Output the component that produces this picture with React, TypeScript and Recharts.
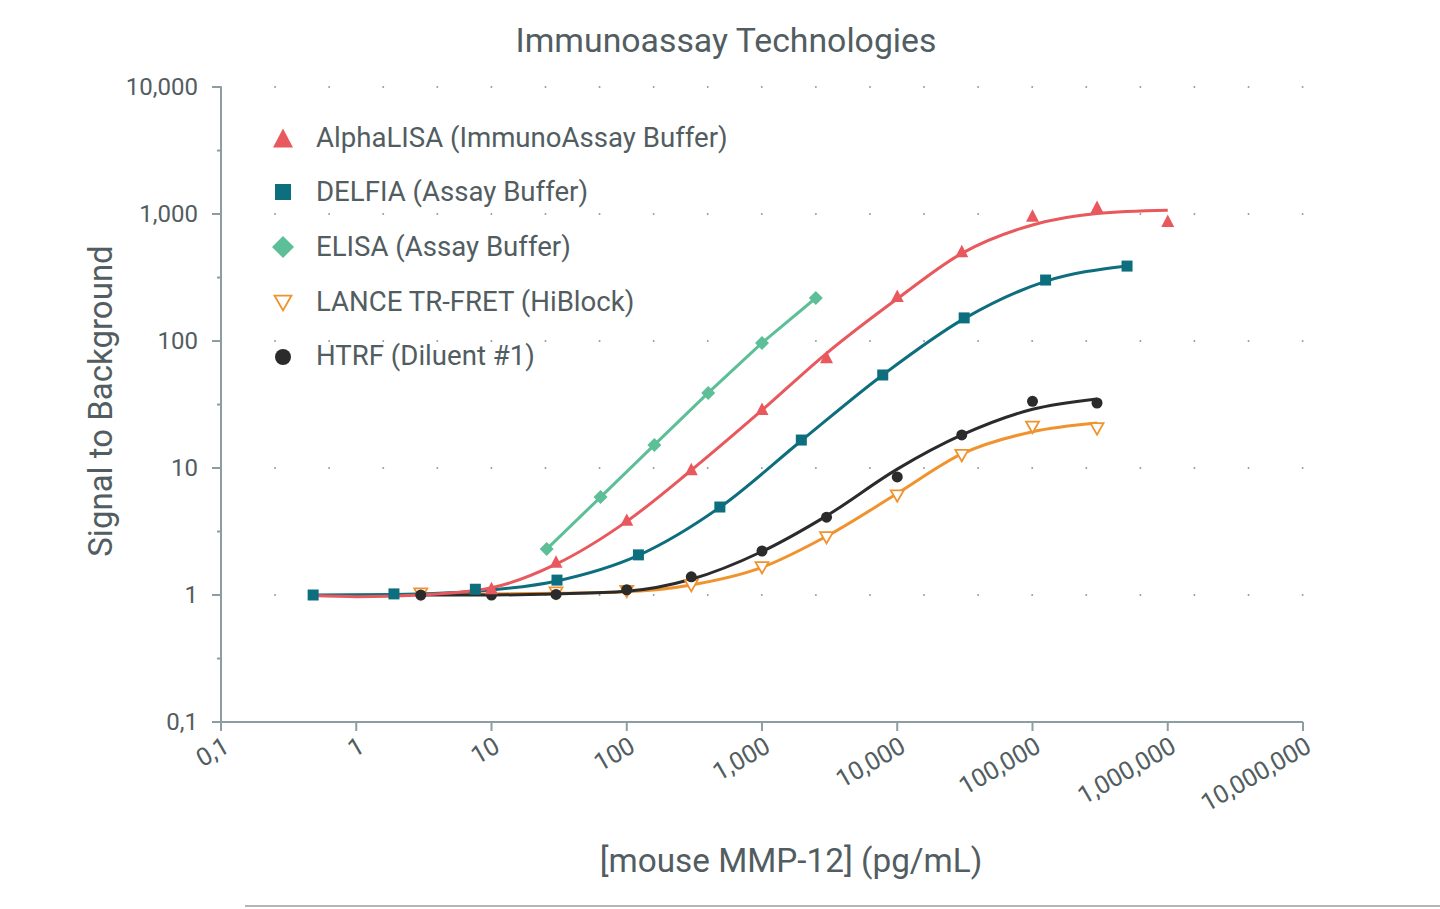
import React from 'react';
import { ComposedChart, Line, Scatter, XAxis, YAxis, ReferenceLine } from 'recharts';

// ---- axis ticks ----
const xTicks = [0.1, 1, 10, 100, 1000, 10000, 100000, 1000000, 10000000];
const xTickLabels = ['0,1', '1', '10', '100', '1,000', '10,000', '100,000', '1,000,000', '10,000,000'];
const yTicks = [0.1, 1, 10, 100, 1000, 10000];
const yTickLabels = ['0,1', '1', '10', '100', '1,000', '10,000'];
const yMinorTicks = [0.316, 3.16, 31.6, 316, 3160];
const gridLevels = [1, 10, 100, 1000, 10000];

// ---- AlphaLISA ----
const alphaX = [10, 30, 100, 300, 1000, 3000, 10000, 30000, 100000, 300000, 1000000];
const alphaY = [1.11, 1.79, 3.83, 9.6, 28.6, 73, 222, 500, 950, 1115, 865];
const alphaFitX = [0.48, 1, 3, 10, 30, 100, 300, 1000, 3000, 10000, 30000, 100000, 300000, 1000000];
const alphaFitY = [0.99, 0.97, 1.0, 1.14, 1.75, 3.8, 9.6, 28.5, 80, 215, 490, 820, 1010, 1070];

// ---- DELFIA ----
const delfiaX = [0.48, 1.9, 7.6, 30.5, 122, 488, 1953, 7812, 31250, 125000, 500000];
const delfiaY = [1.0, 1.02, 1.11, 1.31, 2.07, 4.93, 16.6, 54, 152, 302, 389];
const delfiaFitY = [1.0, 1.01, 1.07, 1.29, 2.05, 4.9, 16.4, 54, 150, 295, 390];

// ---- ELISA ----
const elisaX = [25.6, 64, 160, 400, 1000, 2500];
const elisaY = [2.3, 5.9, 15.2, 39, 96.5, 218];

// ---- LANCE TR-FRET ----
const lanceX = [3, 30, 100, 300, 1000, 3000, 10000, 30000, 100000, 300000];
const lanceY = [1.03, 1.05, 1.08, 1.2, 1.66, 2.86, 6.1, 12.7, 21.2, 20.6];
const lanceFitX = [3, 10, 30, 100, 300, 1000, 3000, 10000, 30000, 100000, 300000];
const lanceFitY = [1.02, 1.02, 1.03, 1.06, 1.2, 1.65, 2.9, 6.3, 12.9, 19.3, 22.6];

// ---- HTRF ----
const htrfX = [3, 10, 30, 100, 300, 1000, 3000, 10000, 30000, 100000, 300000];
const htrfY = [1.0, 1.0, 1.01, 1.1, 1.39, 2.22, 4.1, 8.5, 18.2, 33.5, 32.5];
const htrfFitY = [1.0, 1.0, 1.02, 1.07, 1.33, 2.2, 4.2, 9.8, 18.2, 29, 35];

// ---- legend ----
const legendLabels = [
  'AlphaLISA (ImmunoAssay Buffer)',
  'DELFIA (Assay Buffer)',
  'ELISA (Assay Buffer)',
  'LANCE TR-FRET (HiBlock)',
  'HTRF (Diluent #1)',
];

const RED = '#e8585c';
const TEAL = '#0d6e7e';
const GREEN = '#5cbf97';
const ORANGE = '#f0932f';
const BLACK = '#2b2b2b';
const AXIS = '#8e9da2';
const TEXT = '#525d61';
const FONT = "Roboto, 'Noto Sans', sans-serif";

const zip = (xs: number[], ys: number[]) => xs.map((x, i) => ({ x, y: ys[i] }));

const alphaPts = zip(alphaX, alphaY);
const alphaFit = zip(alphaFitX, alphaFitY);
const delfiaPts = zip(delfiaX, delfiaY);
const delfiaFit = zip(delfiaX, delfiaFitY);
const elisaPts = zip(elisaX, elisaY);
const lancePts = zip(lanceX, lanceY);
const lanceFit = zip(lanceFitX, lanceFitY);
const htrfPts = zip(htrfX, htrfY);
const htrfFit = zip(htrfX, htrfFitY);

const triUp = (cx: number, cy: number, s: number, color: string) => (
  <polygon
    points={`${cx},${cy - s * 0.58} ${cx - s / 2},${cy + s * 0.38} ${cx + s / 2},${cy + s * 0.38}`}
    fill={color}
  />
);
const triDownOpen = (cx: number, cy: number, s: number, color: string) => (
  <polygon
    points={`${cx - s / 2},${cy - s * 0.38} ${cx + s / 2},${cy - s * 0.38} ${cx},${cy + s * 0.5}`}
    fill="#fff"
    stroke={color}
    strokeWidth={1.8}
  />
);
const square = (cx: number, cy: number, s: number, color: string) => (
  <rect x={cx - s / 2} y={cy - s / 2} width={s} height={s} fill={color} />
);
const diamond = (cx: number, cy: number, s: number, color: string) => (
  <polygon points={`${cx},${cy - s / 2} ${cx + s / 2},${cy} ${cx},${cy + s / 2} ${cx - s / 2},${cy}`} fill={color} />
);
const circle = (cx: number, cy: number, s: number, color: string) => (
  <circle cx={cx} cy={cy} r={s / 2} fill={color} />
);

const shapeOf = (fn: any, s: number, color: string) => (p: any) => {
  if (p.cx == null || p.cy == null) return <g />;
  return fn(p.cx, p.cy, s, color);
};

const YTick = (props: any) => {
  const { x, y, payload } = props;
  const i = yTicks.indexOf(payload.value);
  if (i < 0) {
    return <line x1={x + 5} x2={x + 9} y1={y} y2={y} stroke={AXIS} strokeWidth={2} />;
  }
  return (
    <g>
      <line x1={x} x2={x + 9} y1={y} y2={y} stroke={AXIS} strokeWidth={2} />
      <text x={x - 14} y={y} dy="0.35em" textAnchor="end" fill={TEXT} fontSize={24} fontFamily={FONT}>
        {yTickLabels[i]}
      </text>
    </g>
  );
};

const XTick = (props: any) => {
  const { x, y, payload } = props;
  const i = xTicks.indexOf(payload.value);
  const tx = x + 10;
  const ty = y + 20;
  return (
    <g>
      <line x1={x} x2={x} y1={y - 9} y2={y} stroke={AXIS} strokeWidth={2} />
      <text
        x={tx}
        y={ty}
        textAnchor="end"
        transform={`rotate(-30, ${tx}, ${ty})`}
        fill={TEXT}
        fontSize={25}
        fontFamily={FONT}
      >
        {i >= 0 ? xTickLabels[i] : ''}
      </text>
    </g>
  );
};

const legendMarkers = [
  (cx: number, cy: number) => triUp(cx, cy, 20, RED),
  (cx: number, cy: number) => square(cx, cy, 16, TEAL),
  (cx: number, cy: number) => diamond(cx, cy, 22, GREEN),
  (cx: number, cy: number) => triDownOpen(cx, cy, 17, ORANGE),
  (cx: number, cy: number) => circle(cx, cy, 16, BLACK),
];

export default function App() {
  return (
    <div style={{ position: 'absolute', left: 0, top: 0, width: 1440, height: 909, background: '#fff' }}>
      <ComposedChart
        width={1440}
        height={909}
        margin={{ top: 87, right: 137, bottom: 87, left: 121 }}
      >
        <XAxis
          type="number"
          dataKey="x"
          scale="log"
          domain={[0.1, 10000000]}
          ticks={xTicks}
          interval={0}
          allowDataOverflow
          height={100}
          tickSize={9}
          tickMargin={0}
          tickLine={false}
          axisLine={{ stroke: AXIS, strokeWidth: 2 }}
          tick={<XTick />}
        />
        <YAxis
          type="number"
          dataKey="y"
          scale="log"
          domain={[0.1, 10000]}
          ticks={[...yTicks, ...yMinorTicks]}
          interval={0}
          allowDataOverflow
          width={100}
          tickSize={9}
          tickMargin={0}
          tickLine={false}
          axisLine={{ stroke: AXIS, strokeWidth: 2 }}
          tick={<YTick />}
        />
        {gridLevels.map((v) => (
          <ReferenceLine
            key={v}
            y={v}
            stroke="#9a9a9a"
            strokeWidth={2}
            strokeDasharray="0 54.08"
            strokeLinecap="round"
          />
        ))}
        <Line data={lanceFit} dataKey="y" type="monotone" stroke={ORANGE} strokeWidth={3} dot={false} activeDot={false} isAnimationActive={false} />
        <Line data={htrfFit} dataKey="y" type="monotone" stroke={BLACK} strokeWidth={3} dot={false} activeDot={false} isAnimationActive={false} />
        <Line data={delfiaFit} dataKey="y" type="monotone" stroke={TEAL} strokeWidth={3} dot={false} activeDot={false} isAnimationActive={false} />
        <Line data={alphaFit} dataKey="y" type="monotone" stroke={RED} strokeWidth={3} dot={false} activeDot={false} isAnimationActive={false} />
        <Line data={elisaPts} dataKey="y" type="linear" stroke={GREEN} strokeWidth={3} dot={false} activeDot={false} isAnimationActive={false} />
        <Scatter data={lancePts} dataKey="y" shape={shapeOf(triDownOpen, 13, ORANGE)} isAnimationActive={false} />
        <Scatter data={htrfPts} dataKey="y" shape={shapeOf(circle, 11, BLACK)} isAnimationActive={false} />
        <Scatter data={alphaPts} dataKey="y" shape={shapeOf(triUp, 13, RED)} isAnimationActive={false} />
        <Scatter data={delfiaPts} dataKey="y" shape={shapeOf(square, 11, TEAL)} isAnimationActive={false} />
        <Scatter data={elisaPts} dataKey="y" shape={shapeOf(diamond, 14, GREEN)} isAnimationActive={false} />
      </ComposedChart>

      <svg
        width={1440}
        height={909}
        style={{ position: 'absolute', left: 0, top: 0, pointerEvents: 'none' }}
      >
        <text x={726} y={52} textAnchor="middle" fill={TEXT} fontSize={33.8} fontFamily={FONT}>
          Immunoassay Technologies
        </text>
        <text
          x={112}
          y={401}
          textAnchor="middle"
          transform="rotate(-90, 112, 401)"
          fill={TEXT}
          fontSize={33}
          fontFamily={FONT}
        >
          Signal to Background
        </text>
        <text x={791} y={872} textAnchor="middle" fill={TEXT} fontSize={33.3} fontFamily={FONT}>
          [mouse MMP-12] (pg/mL)
        </text>
        {legendLabels.map((label, i) => {
          const baseY = [147, 201, 256, 311, 365][i];
          const cy = [140, 192, 247, 302, 357][i];
          return (
            <g key={label}>
              {legendMarkers[i](283, cy)}
              <text x={316} y={baseY} fill={TEXT} fontSize={27.6} fontFamily={FONT}>
                {label}
              </text>
            </g>
          );
        })}
      </svg>
      <div style={{ position: 'absolute', left: 245, top: 905, width: 1195, height: 2, background: '#b5b5b5' }} />
    </div>
  );
}
